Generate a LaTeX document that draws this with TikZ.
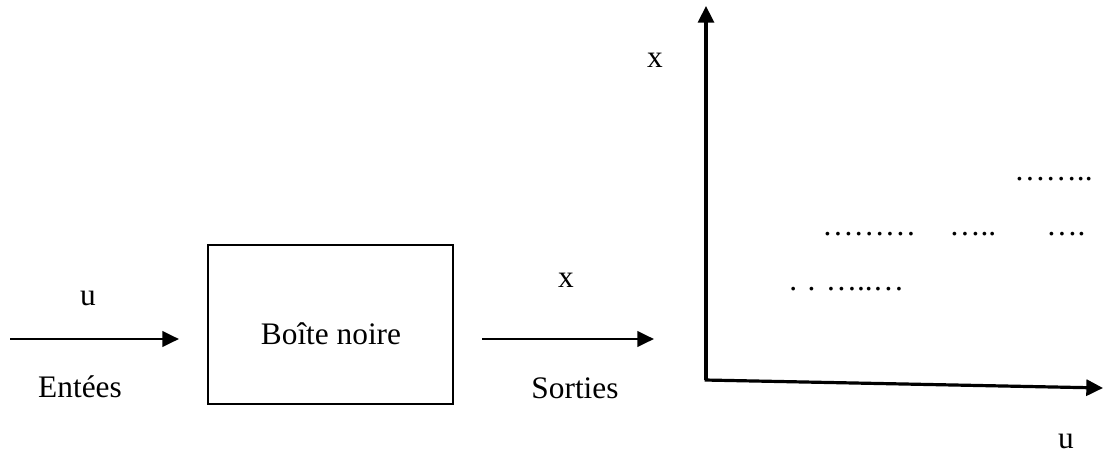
\documentclass[tikz,border=0pt]{standalone}
\usepackage{fontspec}
\setmainfont{Liberation Serif}
\usetikzlibrary{arrows.meta}
\begin{document}
\begin{tikzpicture}[x=0.75pt,y=-0.75pt,
  lbl/.style={inner sep=0pt, font=\fontsize{23.5}{28}\selectfont},
  dots/.style={inner sep=0pt, anchor=base west, font=\fontsize{23.5}{28}\selectfont},
  flow/.style={line width=2.2pt, -{Triangle[length=12.5pt,width=11.5pt]}},
  axis/.style={line width=2.4pt, -{Triangle[length=12.5pt,width=12pt]}}]
\useasboundingbox (0,0) rectangle (1103,457);
% box
\node[draw, line width=1.1pt, minimum width=245*0.75pt, minimum height=159*0.75pt, inner sep=0pt,
      font=\fontsize{23.5}{28}\selectfont] (box) at (330.5,324.5) {};
\node[lbl] (boxlbl) at (331,334) {Boîte noire};
% input arrow
\coordinate (in0) at (10,339);
\coordinate (in1) at (179,339);
\draw[flow] (in0) -- (in1);
\node[lbl] (u1) at (88,298) {u};
\node[lbl] (ent) at (80,387) {Entées};
% output arrow
\coordinate (out0) at (482,339);
\coordinate (out1) at (654,339);
\draw[flow] (out0) -- (out1);
\node[lbl] (x1) at (566,280) {x};
\node[lbl] (sor) at (575,388) {Sorties};
% axes
\coordinate (O) at (706,380);
\coordinate (Y) at (706,6);
\coordinate (X) at (1103,388);
\draw[axis] (O) -- (Y);
\draw[axis] ([xshift=-1pt]O) -- (X);
\node[lbl] (xl) at (655,60) {x};
\node[lbl] (ul) at (1066,441) {u};
% dots
\node[dots] (d1) at (1014,180) {……..};
\node[dots] (d2) at (822,235) {………};
\node[dots] (d3) at (949,235) {…..};
\node[dots] (d4) at (1046,235) {….};
\node[dots] (d5) at (789,290) {. . …..…};
\end{tikzpicture}
\end{document}
